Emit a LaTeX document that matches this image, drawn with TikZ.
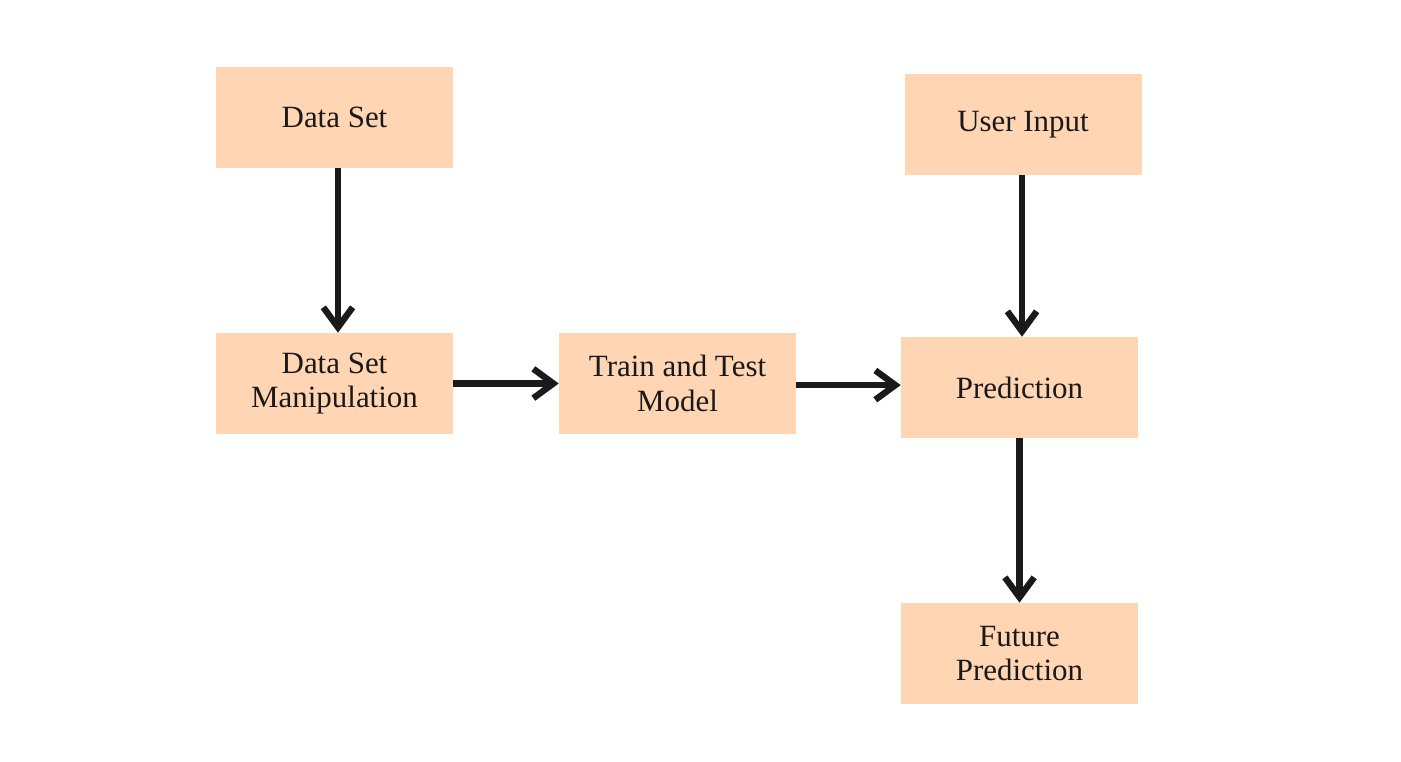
\documentclass[tikz,border=0pt]{standalone}
\usepackage{fontspec}
\setmainfont{Liberation Serif}
\usetikzlibrary{arrows.meta}
\definecolor{boxfill}{HTML}{FFD5B4}
\definecolor{arrowcol}{HTML}{1A1A1A}
\begin{document}
\begin{tikzpicture}[x=0.75pt,y=-0.75pt,
  box/.style={fill=boxfill, draw=none, minimum width=177.75pt, minimum height=75.75pt,
    inner sep=0pt, align=center, font=\fontsize{23.2}{25.8}\selectfont, text=black!90},
  flow/.style={draw=arrowcol, line width=4.8pt,
    -{Straight Barb[length=15pt,width=22pt,line width=4.8pt]}}]
\useasboundingbox (0,0) rectangle (1401,761);
\node[box] (ds)  at (334.5,117.5) {Data Set};
\node[box] (ui)  at (1023,124.5) {User Input};
\node[box] (dsm) at (334.5,383.5) {Data Set\\Manipulation};
\node[box] (ttm) at (677.5,383.5) {Train and Test\\Model};
\node[box] (pr)  at (1019.5,387.5) {Prediction};
\node[box] (fp)  at (1019.5,653.5) {Future\\Prediction};
\draw[flow] ([xshift=2.6pt]ds.south) coordinate (d1) -- (d1 |- dsm.north);
\draw[flow] ([xshift=-0.75pt]ui.south) coordinate (u1) -- (u1 |- pr.north);
\draw[flow] (dsm.east) -- (ttm.west);
\draw[flow] ([yshift=-1.2pt]ttm.east) coordinate (t1) -- (t1 -| pr.west);
\draw[flow] (pr.south) -- (fp.north);
\end{tikzpicture}
\end{document}
